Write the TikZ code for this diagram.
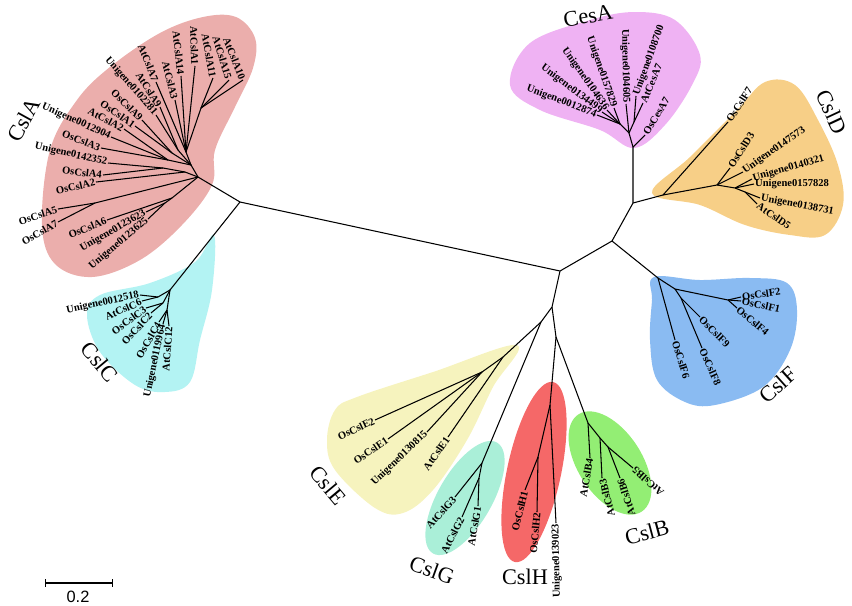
\documentclass[tikz,border=0pt]{standalone}
\usepackage{fontspec}
\setmainfont{Liberation Serif}
\newfontfamily\barfont{Liberation Sans}
\definecolor{ClaA}{HTML}{EBAEAC}
\definecolor{ClaC}{HTML}{B3F3F3}
\definecolor{ClaCes}{HTML}{EFB2F3}
\definecolor{ClaD}{HTML}{F7CF87}
\definecolor{ClaF}{HTML}{8ABBF2}
\definecolor{ClaE}{HTML}{F6F3BE}
\definecolor{ClaG}{HTML}{AAEFD8}
\definecolor{ClaH}{HTML}{F56868}
\definecolor{ClaB}{HTML}{93EE74}
\tikzset{
  branch/.style={line width=0.9pt},
  leaffont/.style={font=\fontsize{9}{9.5}\selectfont\bfseries},
  labR/.style={leaffont,anchor=west,rotate=#1,inner sep=0.8pt},
  labL/.style={leaffont,anchor=east,rotate=#1,inner sep=0.8pt},
  clade/.style={font=\fontsize{19}{21}\selectfont,rotate=#1,inner sep=0pt},
}
% parent, name, tip, label style, text
\newcommand{\leaf}[5]{\coordinate (#2) at (#3);\draw[branch] (#1) -- (#2);\node[#4] (#2l) at (#2) {#5};}

\begin{document}
\begin{tikzpicture}[x=0.03cm,y=-0.03cm]
\path[use as bounding box] (0,0) rectangle (852,605);
% clade shading
\fill[ClaA] plot[smooth cycle,tension=0.6] coordinates {(236,17) (255,38) (253,68) (235,107) (215,150) (212,185) (182,225) (140,260) (92,277) (55,264) (42,225) (50,150) (77,100) (110,67) (160,33) (203,17)};
\fill[ClaC] plot[smooth cycle,tension=0.6] coordinates {(214,235) (212,290) (200,340) (190,382) (165,392) (135,385) (100,352) (87,315) (100,295) (150,283) (195,262)};
\fill[ClaCes] plot[smooth cycle,tension=0.6] coordinates {(510,85) (530,43) (590,20) (635,12) (675,20) (700,55) (692,85) (665,125) (634,148) (600,130) (540,110)};
\fill[ClaD] plot[smooth cycle,tension=0.6] coordinates {(652,193) (690,157) (737,110) (765,82) (795,85) (818,120) (838,165) (843,205) (825,235) (790,235) (745,225) (700,205)};
\fill[ClaF] plot[smooth cycle,tension=0.6] coordinates {(654,277) (700,280) (750,278) (787,283) (797,310) (790,350) (763,387) (715,405) (685,402) (657,380) (650,340) (652,300)};
\fill[ClaE] plot[smooth cycle,tension=0.6] coordinates {(517,345) (493,387) (467,440) (433,490) (403,513) (375,508) (335,470) (327,440) (335,410) (357,397) (433,372)};
\fill[ClaG,rotate around={60:(465,498)}] (465,498) ellipse (64 and 27);
\fill[ClaH,rotate around={78:(534,472)}] (534,472) ellipse (92 and 27);
\fill[ClaB,rotate around={-57:(610,463)}] (610,463) ellipse (58 and 32);
% backbone
\coordinate (nA) at (240,202);
\coordinate (nB) at (560,271);
\coordinate (nC) at (612,241);
\coordinate (nD) at (633,203);
\coordinate (nE) at (552,307);
\coordinate (nE1) at (541,322);
\coordinate (nH0) at (556,337);
\draw[branch] (nA) -- (nB) -- (nC) -- (nD);
\draw[branch] (nB) -- (nE) -- (nE1);
\draw[branch] (nE) -- (nH0);
% CslA
\coordinate (a1) at (198,177);
\coordinate (a2) at (191,165);
\coordinate (a3) at (186,152);
\coordinate (a4) at (201,108);
\coordinate (a5) at (178,150);
\coordinate (a6) at (172,153);
\coordinate (a7) at (168,160);
\coordinate (a8) at (185,172);
\coordinate (a9) at (163,168);
\coordinate (a10) at (95,203);
\coordinate (a12) at (172,198);
\coordinate (a13) at (165,203);
\draw[branch] (nA) -- (a1) -- (a2) -- (a3) -- (a4);
\draw[branch] (a2) -- (a5);
\draw[branch] (a2) -- (a6);
\draw[branch] (a2) -- (a7);
\draw[branch] (a1) -- (a8) -- (a9);
\draw[branch] (a1) -- (a10);
\draw[branch] (a1) -- (a12) -- (a13);
\leaf{a4}{la10}{243,80}{labL=-68}{AtCslA10}
\leaf{a4}{la15}{229,80}{labL=-73}{AtCslA15}
\leaf{a4}{la11}{213,78}{labL=-80}{AtCslA11}
\leaf{a3}{la1}{195,66}{labL=-88}{AtCslA1}
\leaf{a3}{la14}{181,76}{labL=-84}{AtCslA14}
\leaf{a3}{la3}{175,100}{labL=-76}{AtCslA3}
\leaf{a3}{la7}{156,82}{labL=-68}{AtCslA7}
\leaf{a5}{la9}{160,107}{labL=-57}{AtCslA9}
\leaf{a5}{u2281}{156,115}{labL=-49}{Unigene0102281}
\leaf{a6}{oa9}{142,120}{labL=-45}{OsCslA9}
\leaf{a6}{oa1}{135,126}{labL=-35}{OsCslA1}
\leaf{a7}{la2}{124,129}{labL=-28}{AtCslA2}
\leaf{a7}{u2904}{111,137}{labL=-24}{Unigene0012904}
\leaf{a7}{oa3}{101,148}{labL=-21}{OsCslA3}
\leaf{a9}{u2352}{108,163}{labL=-13}{Unigene0142352}
\leaf{a9}{oa4}{103,175}{labL=-7}{OsCslA4}
\leaf{a8}{oa2}{96,182}{labL=13}{OsCslA2}
\leaf{a10}{oa5}{58,209}{labL=18}{OsCslA5}
\leaf{a10}{oa7}{58,222}{labL=30}{OsCslA7}
\leaf{a12}{oa6}{107,220}{labL=22}{OsCslA6}
\leaf{a13}{u3623}{146,212}{labL=30}{Unigene0123623}
\leaf{a13}{u3625}{148,219}{labL=40}{Unigene0123625}
% CslC
\coordinate (c1) at (170,290);
\coordinate (c2) at (158,297);
\coordinate (c3) at (163,303);
\coordinate (c4) at (167,310);
\draw[branch] (nA) -- (c1) -- (c2);
\draw[branch] (c1) -- (c3);
\draw[branch] (c1) -- (c4);
\leaf{c2}{u2518}{140,295}{labL=12}{Unigene0012518}
\leaf{c2}{lc6}{142,301}{labL=24}{AtCslC6}
\leaf{c3}{oc3}{146,308}{labL=36}{OsCslC3}
\leaf{c3}{oc2}{151,313}{labL=48}{OsCslC2}
\leaf{c4}{oc4}{159,322}{labL=60}{OsCslC4}
\leaf{c4}{u9964}{163,324}{labL=78}{Unigene0119964}
\leaf{c4}{lc12}{169,326}{labL=86}{AtCslC12}
% CesA
\coordinate (d1) at (633,147);
\coordinate (d2) at (629,133);
\coordinate (d3) at (634,122);
\coordinate (d4) at (620,124);
\draw[branch] (nD) -- (d1) -- (d2) -- (d3);
\draw[branch] (d2) -- (d4);
\leaf{d1}{oces7}{645,135}{labR=59}{OsCesA7}
\leaf{d3}{lces7}{643,103}{labR=67}{AtCesA7}
\leaf{d3}{u8700}{636,96}{labR=70}{Unigene0108700}
\leaf{d2}{u4605}{626,104}{labL=-89}{Unigene0104605}
\leaf{d4}{u7829}{614,108}{labL=-71}{Unigene0157829}
\leaf{d4}{u4636}{607,110}{labL=-55}{Unigene0104636}
\leaf{d4}{u4499}{602,112}{labL=-37}{Unigene0134499}
\leaf{d4}{u2874}{597,115}{labL=-21}{Unigene0012874}
% CslD
\coordinate (e1) at (663,195);
\coordinate (e2) at (717,185);
\coordinate (e3) at (735,188);
\coordinate (e4) at (745,192);
\draw[branch] (nD) -- (e1) -- (e2) -- (e3) -- (e4);
\leaf{e1}{of7}{728,122}{labR=57}{OsCslF7}
\leaf{e2}{od3}{730,168}{labR=58}{OsCslD3}
\leaf{e2}{u7573}{743,172}{labR=35}{Unigene0147573}
\leaf{e3}{u0321}{752,179}{labR=16}{Unigene0140321}
\leaf{e3}{u7828}{754,184}{labR=0}{Unigene0157828}
\leaf{e4}{u8731}{760,198}{labR=-11}{Unigene0138731}
\leaf{e4}{ld5}{757,204}{labR=-35}{AtCslD5}
% CslF
\coordinate (f1) at (658,278);
\coordinate (f2) at (675,289);
\coordinate (f3) at (728,300);
\coordinate (f4) at (681,298);
\draw[branch] (nC) -- (f1) -- (f2) -- (f3);
\draw[branch] (f2) -- (f4);
\leaf{f1}{of6}{675,340}{labR=-73}{OsCslF6}
\leaf{f4}{of9}{700,317}{labR=-45}{OsCslF9}
\leaf{f4}{of8}{702,348}{labR=-66}{OsCslF8}
\leaf{f3}{of2}{741,297}{labR=8}{OsCslF2}
\leaf{f3}{of1}{741,301}{labR=-12}{OsCslF1}
\leaf{f3}{of4}{737,308}{labR=-40}{OsCslF4}
% CslE
\coordinate (ce1) at (503,357);
\coordinate (ce2) at (482,372);
\draw[branch] (nE1) -- (ce1) -- (ce2);
\leaf{ce1}{le1}{448,437}{labL=55}{AtCslE1}
\leaf{ce2}{oe2}{375,420}{labL=25}{OsCslE2}
\leaf{ce2}{oe1}{388,439}{labL=34}{OsCslE1}
\leaf{ce2}{u0815}{427,432}{labL=44}{Unigene0130815}
% CslG
\coordinate (g1) at (482,463);
\coordinate (g2) at (479,478);
\draw[branch] (nE1) -- (g1) -- (g2);
\leaf{g1}{lg3}{455,497}{labL=48}{AtCslG3}
\leaf{g2}{lg2}{462,517}{labL=63}{AtCslG2}
\leaf{g2}{lg1}{478,506}{labL=80}{AtCslG1}
% CslH
\coordinate (h1) at (550,405);
\coordinate (h2) at (538,457);
\draw[branch] (nH0) -- (h1) -- (h2);
\leaf{h1}{u9023}{556,523}{labL=91}{Unigene0139023}
\leaf{h2}{oh1}{525,490}{labL=76}{OsCslH1}
\leaf{h2}{oh2}{537,512}{labL=85}{OsCslH2}
% CslB
\coordinate (b1) at (588,423);
\coordinate (b2) at (600,438);
\coordinate (b3) at (608,447);
\draw[branch] (nH0) -- (b1) -- (b2) -- (b3);
\leaf{b1}{lb4}{590,458}{labL=80}{AtCslB4}
\leaf{b2}{lb3}{602,478}{labL=104}{AtCslB3}
\leaf{b3}{lb6}{620,478}{labL=108}{AtCslB6}
\leaf{b3}{lb5}{633,468}{labL=138}{AtCslB5}
% clade names
\node[clade=61] (tA) at (24,120) {CslA};
\node[clade=-50] (tC) at (100,362) {CslC};
\node[clade=10] (tCes) at (588,16) {CesA};
\node[clade=-65] (tD) at (832,112) {CslD};
\node[clade=42] (tF) at (778,385) {CslF};
\node[clade=-50] (tE) at (328,485) {CslE};
\node[clade=-20] (tG) at (432,570) {CslG};
\node[clade=0] (tH) at (525,577) {CslH};
\node[clade=15] (tB) at (647,532) {CslB};
% scale bar
\coordinate (s1) at (45,583);
\coordinate (s2) at (113,583);
\draw[line width=0.9pt,|-|] (s1) -- (s2);
\node[font=\barfont\fontsize{14}{15}\selectfont] (sl) at (78,597) {0.2};
\end{tikzpicture}
\end{document}
